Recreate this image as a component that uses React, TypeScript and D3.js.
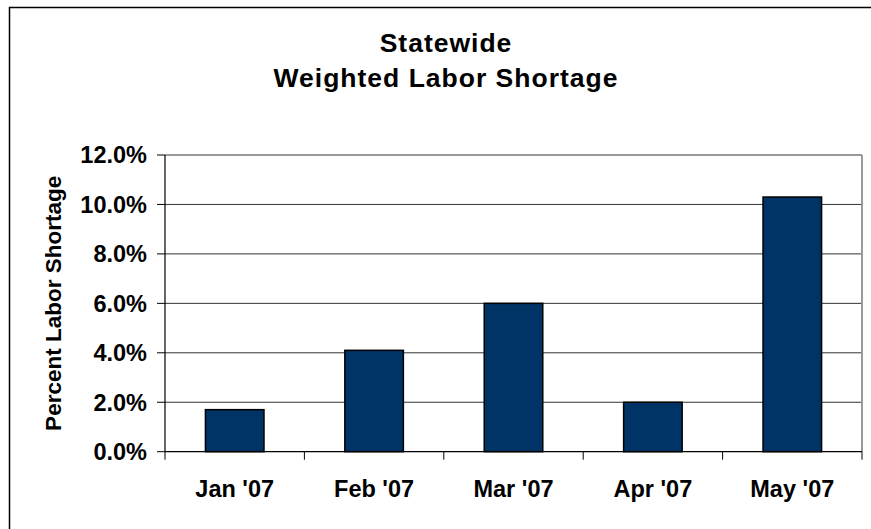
import React from 'react';
import * as d3 from 'd3';

const months = ["Jan '07", "Feb '07", "Mar '07", "Apr '07", "May '07"];
const shortage = [1.7, 4.1, 6.0, 2.0, 10.3];
const yTicks = [0, 2, 4, 6, 8, 10, 12];

const W = 871;
const H = 529;
const font = '"Liberation Sans", Arial, sans-serif';

export default function App() {
  const left = 165, right = 862, top = 155, bottom = 451.7;

  const x = d3.scaleBand().domain(months).range([left, right]).paddingInner(0.58).paddingOuter(0.29);
  const y = d3.scaleLinear().domain([0, 12]).range([bottom, top]);
  const step = x.step();
  const bounds = d3.range(months.length + 1).map(i => left + i * step);

  return (
    <svg width={W} height={H} style={{ position: 'absolute', left: 0, top: 0, background: '#fff' }}
      fontFamily={font} fontWeight="bold">
      <rect x={9.5} y={7.5} width={900} height={600} fill="none" stroke="#000" strokeWidth={1.5} />

      <text x={446} y={51.7} textAnchor="middle" fontSize={26.5} letterSpacing={1}>Statewide</text>
      <text x={446} y={86.7} textAnchor="middle" fontSize={26.5} letterSpacing={1}>Weighted Labor Shortage</text>

      {/* gridlines */}
      {yTicks.filter(t => t > 0 && t < 12).map(t => (
        <line key={t} x1={left} x2={right} y1={y(t)} y2={y(t)} stroke="#333" strokeWidth={1} />
      ))}
      <line x1={left} x2={right} y1={top} y2={top} stroke="#999" strokeWidth={2} />
      <line x1={right} x2={right} y1={top} y2={bottom} stroke="#999" strokeWidth={2} />

      {/* bars */}
      {months.map((m, i) => (
        <rect key={m} x={x(m)} y={y(shortage[i])} width={x.bandwidth()} height={bottom - y(shortage[i])}
          fill="#003366" stroke="#000" strokeWidth={1.5} />
      ))}

      {/* axes */}
      <line x1={left} x2={left} y1={top} y2={bottom} stroke="#000" strokeWidth={1.2} />
      <line x1={left} x2={right} y1={bottom} y2={bottom} stroke="#000" strokeWidth={1.2} />
      {yTicks.map(t => (
        <g key={t}>
          <line x1={157} x2={left} y1={y(t)} y2={y(t)} stroke="#000" strokeWidth={1} />
          <text x={147} y={y(t)} dy="0.36em" textAnchor="end" fontSize={23.5}>{t.toFixed(1) + '%'}</text>
        </g>
      ))}
      {bounds.map((b, i) => (
        <line key={i} x1={b} x2={b} y1={bottom} y2={bottom + 8} stroke="#000" strokeWidth={1} />
      ))}
      {months.map(m => (
        <text key={m} x={(x(m) as number) + x.bandwidth() / 2} y={496.7} textAnchor="middle" fontSize={23.5}>{m}</text>
      ))}

      <text transform={`translate(61,${(top + bottom) / 2}) rotate(-90)`} textAnchor="middle" fontSize={22.5}>
        Percent Labor Shortage
      </text>
    </svg>
  );
}
